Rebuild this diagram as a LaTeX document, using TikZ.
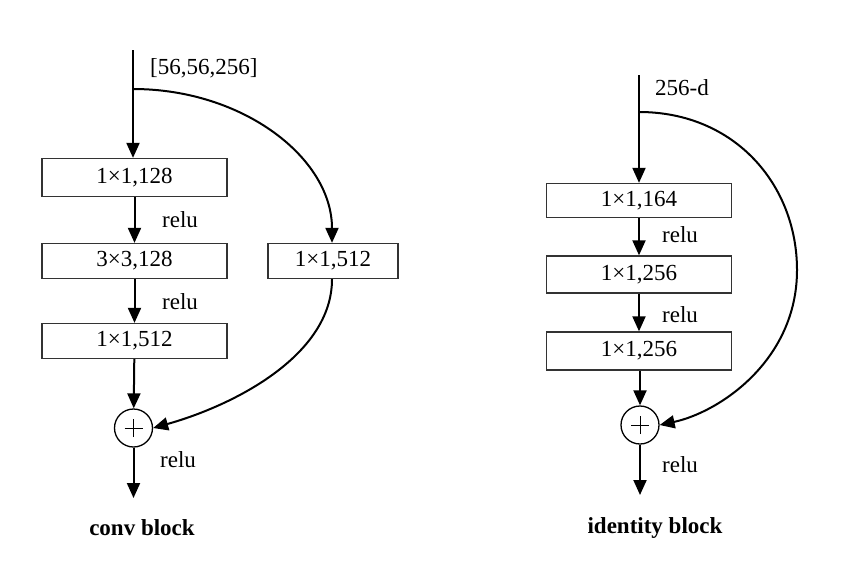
\documentclass[tikz,border=0pt]{standalone}
\usepackage{fontspec}
\setmainfont{Liberation Serif}
\usetikzlibrary{arrows.meta}
\begin{document}
\begin{tikzpicture}[x=1pt,y=-1pt,
  every node/.style={font=\fontsize{23}{26}\selectfont},
  blk/.style={draw=black!80,line width=1.3pt,minimum width=185pt,minimum height=35pt,inner sep=0pt},
  conn/.style={line width=2pt,-{Triangle[length=15pt,width=13pt]}},
  line/.style={line width=2pt},
  lab/.style={anchor=west,inner sep=0pt},
  addc/.style={draw,line width=1.3pt,circle,minimum size=38pt,inner sep=0pt,
    path picture={\draw[line width=1pt] ([xshift=-9pt]path picture bounding box.center) -- ([xshift=9pt]path picture bounding box.center);
                  \draw[line width=1pt] ([yshift=-9pt]path picture bounding box.center) -- ([yshift=9pt]path picture bounding box.center);}},
  ttl/.style={font=\fontsize{23}{26}\selectfont\bfseries}]
\useasboundingbox[fill=white] (0,0) rectangle (850,584);
% ---------- conv block ----------
\coordinate (lin) at (133,50);
\coordinate (lsplit) at (133,89);
\node[blk,minimum height=38pt] (l1) at (134.5,177.5) {1×1,128};
\node[blk] (l2) at (134.5,261) {3×3,128};
\node[blk] (l3) at (134.5,341) {1×1,512};
\node[blk,minimum width=130pt] (ls) at (333,261) {1×1,512};
\node[addc] (ladd) at (133.5,428) {};
\coordinate (lout) at (133.5,498);
\node[lab] (lt0) at (150,68) {[56,56,256]};
\node[lab] (lr1) at (162,220) {relu};
\node[lab] (lr2) at (162,302) {relu};
\node[lab] (lr3) at (160,460) {relu};
\node[ttl] (lttl) at (142,528) {conv block};
\draw[conn] (lin) -- (lin |- l1.north);
\draw[conn] (l1) -- (l2);
\draw[conn] (l2) -- (l3);
\draw[conn] (l3) -- (ladd);
\draw[conn] (ladd) -- (lout);
\draw[conn] (lsplit) .. controls (243,89) and (332,158) .. (ls.north -| 332,0);
\draw[conn] (ls.south -| 332,0) .. controls (332,355) and (235,405) .. (ladd.east);
% ---------- identity block ----------
\coordinate (rin) at (639,75);
\coordinate (rsplit) at (639,112);
\coordinate (rmid) at (797,270);
\node[blk,minimum height=34pt] (r1) at (639,200.5) {1×1,164};
\node[blk,minimum height=37pt] (r2) at (639,274.5) {1×1,256};
\node[blk,minimum height=38pt] (r3) at (639,351) {1×1,256};
\node[addc] (radd) at (640,425) {};
\coordinate (rout) at (640,495);
\node[lab] (rt0) at (655,88) {256-d};
\node[lab] (rr1) at (662,235) {relu};
\node[lab] (rr2) at (662,315) {relu};
\node[lab] (rr3) at (662,465) {relu};
\node[ttl] (rttl) at (655,528) {identity block};
\draw[conn] (rin) -- (rin |- r1.north);
\draw[conn] (r1.south -| rin) -- (r2.north -| rin);
\draw[conn] (r2.south -| rin) -- (r3.north -| rin);
\draw[conn] (r3.south -| radd) -- (radd);
\draw[conn] (radd) -- (rout);
\draw[conn] (rsplit) .. controls (735,112) and (797,185) .. (rmid) .. controls (797,360) and (720,412) .. (radd.east);
\end{tikzpicture}
\end{document}
